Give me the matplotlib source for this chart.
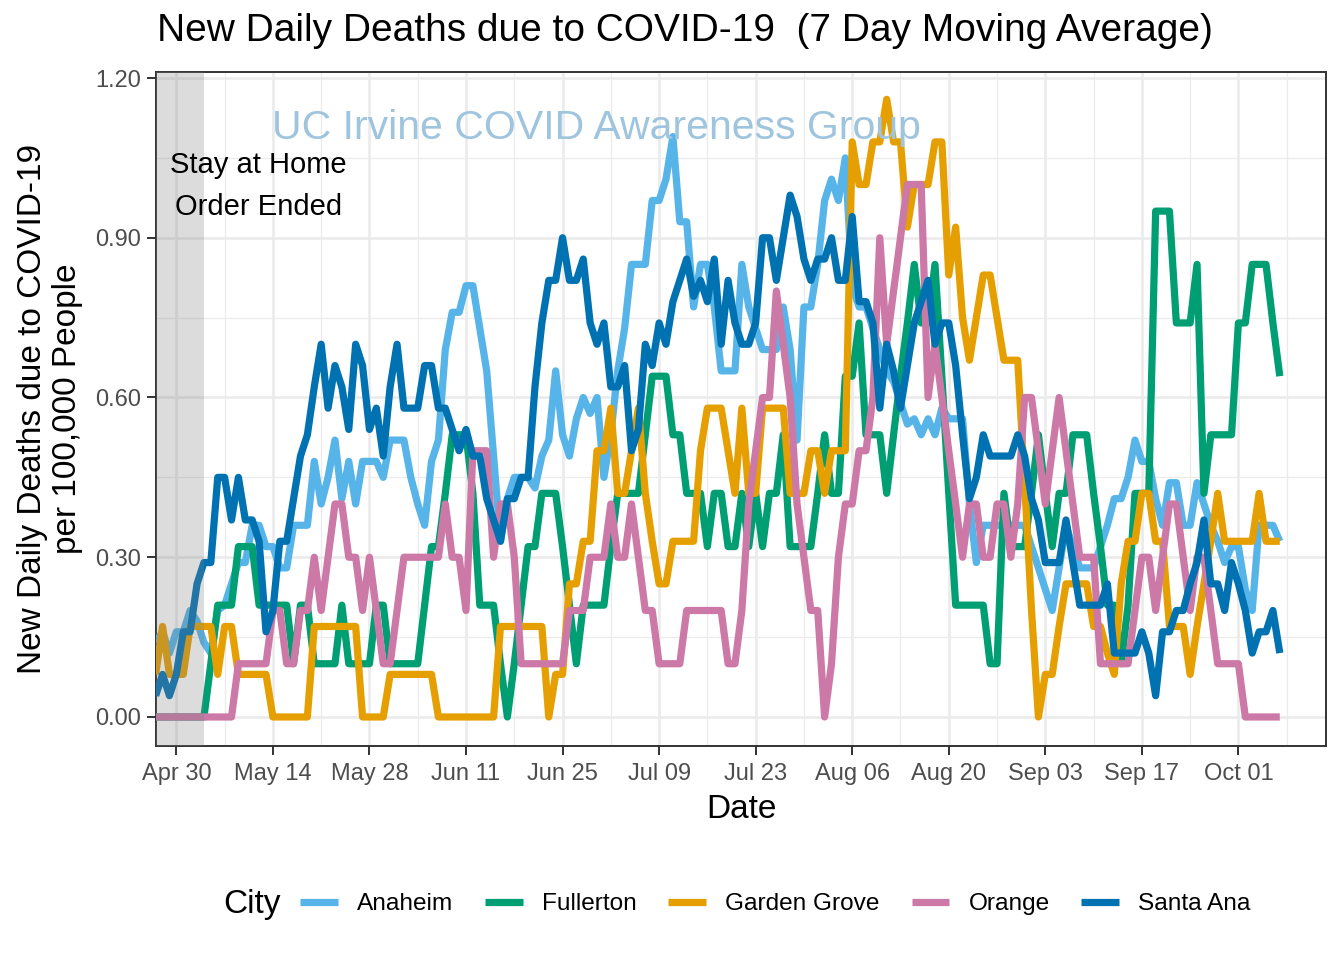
import numpy as np
import pandas as pd
import matplotlib
matplotlib.use('Agg')
import matplotlib.pyplot as plt
import matplotlib.dates as mdates
from matplotlib.lines import Line2D

plt.rcParams['font.family'] = ['Liberation Sans', 'DejaVu Sans']

# 7 day moving average of new daily deaths per 100,000 people, from Apr 27 2020
start = '2020-04-27'

anaheim = [0.14, 0.16, 0.12, 0.16, 0.16, 0.20, 0.18, 0.14, 0.12, 0.20,
           0.21, 0.25, 0.29, 0.29, 0.36, 0.36, 0.32, 0.32, 0.28, 0.28,
           0.36, 0.36, 0.36, 0.48, 0.40, 0.45, 0.52, 0.41, 0.48, 0.40,
           0.48, 0.48, 0.48, 0.45, 0.52, 0.52, 0.52, 0.45, 0.40, 0.36,
           0.48, 0.52, 0.69, 0.76, 0.76, 0.81, 0.81, 0.73, 0.65, 0.49,
           0.33, 0.41, 0.45, 0.45, 0.45, 0.43, 0.49, 0.52, 0.65, 0.53,
           0.49, 0.56, 0.60, 0.57, 0.60, 0.45, 0.53, 0.65, 0.73, 0.85,
           0.85, 0.85, 0.97, 0.97, 1.01, 1.09, 0.93, 0.93, 0.77, 0.85,
           0.85, 0.77, 0.65, 0.65, 0.65, 0.85, 0.77, 0.73, 0.69, 0.69,
           0.69, 0.77, 0.69, 0.52, 0.77, 0.77, 0.85, 0.97, 1.01, 0.97,
           1.05, 0.81, 0.77, 0.77, 0.73, 0.69, 0.65, 0.63, 0.59, 0.55,
           0.56, 0.53, 0.56, 0.53, 0.58, 0.56, 0.56, 0.56, 0.40, 0.29,
           0.36, 0.36, 0.36, 0.36, 0.36, 0.36, 0.36, 0.32, 0.28, 0.24,
           0.20, 0.28, 0.36, 0.32, 0.28, 0.28, 0.28, 0.32, 0.36, 0.41,
           0.41, 0.45, 0.52, 0.48, 0.48, 0.41, 0.36, 0.44, 0.44, 0.36,
           0.36, 0.44, 0.40, 0.36, 0.33, 0.29, 0.32, 0.32, 0.24, 0.20,
           0.36, 0.36, 0.36, 0.33]

fullerton = [0, 0, 0, 0, 0, 0, 0, 0, 0.10, 0.21,
             0.21, 0.21, 0.32, 0.32, 0.32, 0.21, 0.21, 0.21, 0.21, 0.21,
             0.10, 0.21, 0.21, 0.10, 0.10, 0.10, 0.10, 0.21, 0.10, 0.10,
             0.10, 0.10, 0.21, 0.21, 0.10, 0.10, 0.10, 0.10, 0.10, 0.21,
             0.32, 0.32, 0.42, 0.53, 0.53, 0.53, 0.42, 0.21, 0.21, 0.21,
             0.10, 0, 0.10, 0.21, 0.32, 0.32, 0.42, 0.42, 0.42, 0.32,
             0.21, 0.10, 0.21, 0.21, 0.21, 0.21, 0.32, 0.42, 0.42, 0.42,
             0.42, 0.53, 0.64, 0.64, 0.64, 0.53, 0.53, 0.42, 0.42, 0.42,
             0.32, 0.42, 0.42, 0.32, 0.32, 0.42, 0.32, 0.42, 0.32, 0.42,
             0.42, 0.53, 0.32, 0.32, 0.32, 0.32, 0.42, 0.53, 0.42, 0.42,
             0.64, 0.64, 0.74, 0.53, 0.53, 0.53, 0.42, 0.53, 0.64, 0.74,
             0.85, 0.74, 0.74, 0.85, 0.64, 0.42, 0.21, 0.21, 0.21, 0.21,
             0.21, 0.10, 0.10, 0.42, 0.32, 0.32, 0.32, 0.42, 0.53, 0.42,
             0.32, 0.42, 0.42, 0.53, 0.53, 0.53, 0.42, 0.32, 0.21, 0.21,
             0.10, 0.21, 0.42, 0.42, 0.42, 0.95, 0.95, 0.95, 0.74, 0.74,
             0.74, 0.85, 0.42, 0.53, 0.53, 0.53, 0.53, 0.74, 0.74, 0.85,
             0.85, 0.85, 0.74, 0.64]

garden_grove = [0.08, 0.17, 0.08, 0.08, 0.08, 0.17, 0.17, 0.17, 0.17, 0.08,
                0.17, 0.17, 0.08, 0.08, 0.08, 0.08, 0.08, 0, 0, 0,
                0, 0, 0, 0.17, 0.17, 0.17, 0.17, 0.17, 0.17, 0.17,
                0, 0, 0, 0, 0.08, 0.08, 0.08, 0.08, 0.08, 0.08,
                0.08, 0, 0, 0, 0, 0, 0, 0, 0, 0,
                0.17, 0.17, 0.17, 0.17, 0.17, 0.17, 0.17, 0, 0.08, 0.08,
                0.25, 0.25, 0.33, 0.33, 0.50, 0.50, 0.58, 0.42, 0.42, 0.50,
                0.58, 0.42, 0.33, 0.25, 0.25, 0.33, 0.33, 0.33, 0.33, 0.50,
                0.58, 0.58, 0.58, 0.50, 0.42, 0.58, 0.42, 0.42, 0.58, 0.58,
                0.58, 0.58, 0.42, 0.42, 0.42, 0.50, 0.50, 0.42, 0.50, 0.50,
                0.50, 1.08, 1.00, 1.00, 1.08, 1.08, 1.16, 1.08, 1.08, 0.92,
                1.00, 1.00, 1.00, 1.08, 1.08, 0.83, 0.92, 0.75, 0.67, 0.75,
                0.83, 0.83, 0.75, 0.67, 0.67, 0.67, 0.44, 0.20, 0, 0.08,
                0.08, 0.17, 0.25, 0.25, 0.25, 0.25, 0.17, 0.17, 0.12, 0.08,
                0.25, 0.33, 0.33, 0.42, 0.42, 0.33, 0.33, 0.17, 0.17, 0.17,
                0.08, 0.17, 0.25, 0.33, 0.42, 0.33, 0.33, 0.33, 0.33, 0.33,
                0.42, 0.33, 0.33, 0.33]

orange = [0, 0, 0, 0, 0, 0, 0, 0, 0, 0,
          0, 0, 0.1, 0.1, 0.1, 0.1, 0.1, 0.2, 0.2, 0.1,
          0.1, 0.2, 0.2, 0.3, 0.2, 0.3, 0.4, 0.4, 0.3, 0.3,
          0.2, 0.3, 0.2, 0.1, 0.1, 0.2, 0.3, 0.3, 0.3, 0.3,
          0.3, 0.3, 0.4, 0.3, 0.3, 0.2, 0.5, 0.5, 0.5, 0.3,
          0.4, 0.4, 0.3, 0.1, 0.1, 0.1, 0.1, 0.1, 0.1, 0.1,
          0.2, 0.2, 0.2, 0.3, 0.3, 0.3, 0.4, 0.3, 0.3, 0.4,
          0.3, 0.2, 0.2, 0.1, 0.1, 0.1, 0.1, 0.2, 0.2, 0.2,
          0.2, 0.2, 0.2, 0.1, 0.1, 0.2, 0.4, 0.5, 0.6, 0.6,
          0.8, 0.7, 0.6, 0.4, 0.3, 0.2, 0.2, 0, 0.1, 0.3,
          0.4, 0.4, 0.5, 0.5, 0.6, 0.9, 0.7, 0.8, 0.9, 1.0,
          1.0, 1.0, 0.6, 0.7, 0.6, 0.5, 0.4, 0.3, 0.4, 0.4,
          0.3, 0.3, 0.4, 0.4, 0.3, 0.4, 0.6, 0.6, 0.5, 0.4,
          0.5, 0.6, 0.5, 0.4, 0.3, 0.3, 0.3, 0.1, 0.1, 0.1,
          0.1, 0.1, 0.2, 0.3, 0.3, 0.2, 0.3, 0.4, 0.4, 0.3,
          0.2, 0.3, 0.3, 0.2, 0.1, 0.1, 0.1, 0.1, 0, 0,
          0, 0, 0, 0]

santa_ana = [0.04, 0.08, 0.04, 0.08, 0.16, 0.16, 0.25, 0.29, 0.29, 0.45,
             0.45, 0.37, 0.45, 0.37, 0.37, 0.33, 0.16, 0.20, 0.33, 0.33,
             0.41, 0.49, 0.53, 0.62, 0.70, 0.58, 0.66, 0.62, 0.54, 0.70,
             0.66, 0.54, 0.58, 0.49, 0.62, 0.70, 0.58, 0.58, 0.58, 0.66,
             0.66, 0.58, 0.58, 0.54, 0.50, 0.54, 0.49, 0.49, 0.41, 0.37,
             0.33, 0.41, 0.41, 0.45, 0.45, 0.62, 0.74, 0.82, 0.82, 0.90,
             0.82, 0.82, 0.86, 0.74, 0.70, 0.74, 0.62, 0.62, 0.66, 0.50,
             0.54, 0.70, 0.66, 0.74, 0.70, 0.78, 0.82, 0.86, 0.79, 0.82,
             0.78, 0.86, 0.70, 0.82, 0.74, 0.70, 0.70, 0.74, 0.90, 0.90,
             0.82, 0.90, 0.98, 0.94, 0.86, 0.82, 0.86, 0.86, 0.90, 0.82,
             0.82, 0.94, 0.78, 0.78, 0.74, 0.58, 0.70, 0.65, 0.58, 0.66,
             0.74, 0.78, 0.82, 0.70, 0.74, 0.74, 0.66, 0.53, 0.41, 0.45,
             0.53, 0.49, 0.49, 0.49, 0.49, 0.53, 0.49, 0.41, 0.37, 0.29,
             0.29, 0.29, 0.37, 0.29, 0.21, 0.21, 0.21, 0.21, 0.25, 0.12,
             0.12, 0.12, 0.12, 0.16, 0.12, 0.04, 0.16, 0.16, 0.20, 0.20,
             0.25, 0.29, 0.37, 0.25, 0.25, 0.20, 0.29, 0.25, 0.20, 0.12,
             0.16, 0.16, 0.20, 0.12]

cities = ['Anaheim', 'Fullerton', 'Garden Grove', 'Orange', 'Santa Ana']
series = [anaheim, fullerton, garden_grove, orange, santa_ana]
colors = ['#56B4E9', '#009E73', '#E69F00', '#CC79A7', '#0072B2']

order_ended = '2020-05-04'
y_ticks = [0.0, 0.3, 0.6, 0.9, 1.2]

t0 = pd.Timestamp(start)
dates = pd.date_range(start, periods=len(anaheim), freq='D')

fig = plt.figure(figsize=(13.44, 9.6), dpi=100)
ax = fig.add_axes([156 / 1344, 1 - 746 / 960, 1170 / 1344, 674 / 960])

for vals, city, col in zip(series, cities, colors):
    ax.plot(dates, vals, color=col, lw=5.2, label=city,
            solid_capstyle='butt', solid_joinstyle='round', zorder=3)

# grey box for the stay-at-home period
ax.axvspan(t0 - pd.Timedelta(days=5), pd.Timestamp(order_ended),
           color='#7f7f7f', alpha=0.27, lw=0, zorder=4)

ax.text(t0 + pd.Timedelta(days=14.85), 0.997, 'Stay at Home\nOrder Ended',
        fontsize=21, ha='center', va='center', linespacing=1.62, zorder=5)
ax.text(t0 + pd.Timedelta(days=63.9), 1.106, 'UC Irvine COVID Awareness Group',
        fontsize=29.5, ha='center', va='center', color='#9ec4de', zorder=5)

ax.set_xlim(t0 + pd.Timedelta(days=0.05), t0 + pd.Timedelta(days=169.7))
ax.set_ylim(-0.0545, 1.2113)

major = pd.date_range('2020-04-30', '2020-10-01', freq='14D')
minor = pd.date_range('2020-05-07', '2020-10-08', freq='14D')
ax.set_xticks(major)
ax.set_xticks(minor, minor=True)
ax.xaxis.set_major_formatter(mdates.DateFormatter('%b %d'))
ax.set_yticks(y_ticks)
ax.set_yticks([0.15, 0.45, 0.75, 1.05], minor=True)
ax.set_yticklabels(['%.2f' % v for v in y_ticks])

ax.grid(which='major', color='#ebebeb', lw=1.9, zorder=0)
ax.grid(which='minor', color='#ebebeb', lw=0.9, zorder=0)
ax.set_axisbelow(True)
ax.tick_params(which='major', length=6.5, width=1.4, color='#333333',
               labelsize=17, labelcolor='#4d4d4d', pad=4)
ax.tick_params(axis='x', which='major', pad=6)
ax.tick_params(which='minor', length=0)
for sp in ax.spines.values():
    sp.set_color('#333333')
    sp.set_linewidth(1.4)

fig.text(157 / 1344, 1 - 31 / 960,
         'New Daily Deaths due to COVID-19  (7 Day Moving Average)',
         fontsize=28, ha='left', va='center')
fig.text(741 / 1344, 1 - 810 / 960, 'Date', fontsize=24, ha='center', va='center')
fig.text(50 / 1344, 1 - 409 / 960,
         'New Daily Deaths due to COVID-19\nper 100,000 People',
         fontsize=24, ha='center', va='center', rotation=90, multialignment='center')

fig.text(223 / 1344, 1 - 904 / 960, 'City', fontsize=24, ha='left', va='center')
handles = [Line2D([0], [0], color=c, lw=5.2, solid_capstyle='butt') for c in colors]
fig.legend(handles, cities, ncol=5, loc='center left',
           bbox_to_anchor=(300 / 1344, 1 - 904 / 960), frameon=False,
           fontsize=17.6, handlelength=1.55, handletextpad=0.78,
           columnspacing=1.3, borderpad=0, borderaxespad=0)

plt.savefig('out.png', dpi=100)
